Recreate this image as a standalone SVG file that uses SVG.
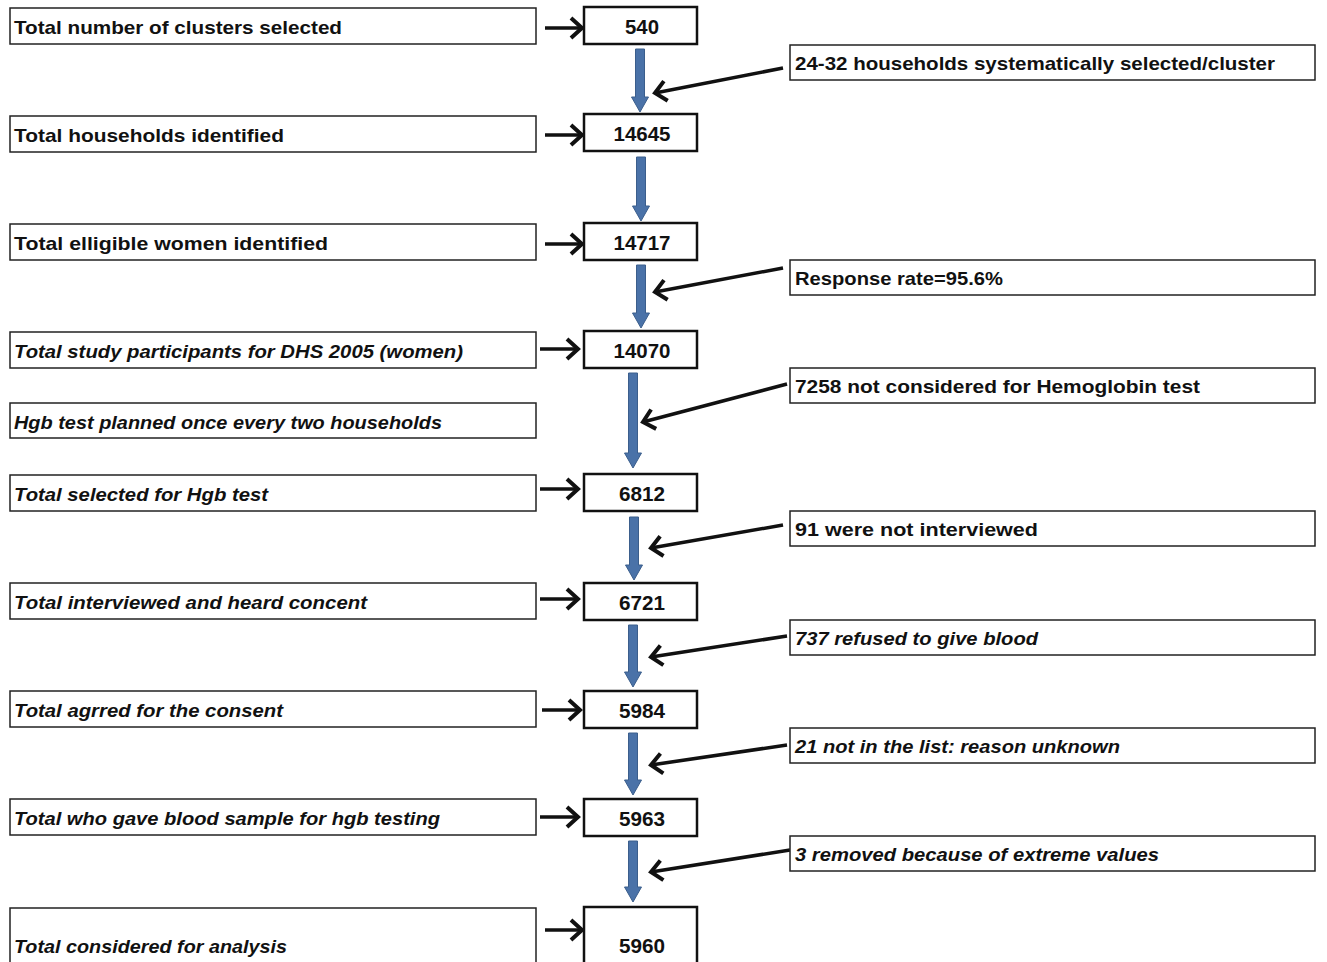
<svg xmlns="http://www.w3.org/2000/svg" width="1327" height="962" viewBox="0 0 1327 962">
<defs>
<style>
.lb{fill:#fff;stroke:#222;stroke-width:1.5}
.nb{fill:#fff;stroke:#111;stroke-width:2.5}
.t{font-family:"Liberation Sans",Arial,sans-serif;font-weight:bold;font-size:19px;fill:#111}
.i{font-style:italic}
.n{text-anchor:middle;font-size:20px}
.blue{fill:#4A72A8;stroke:#3B5E8C;stroke-width:1}
.conn{stroke:#111;stroke-width:3.5;fill:none;marker-end:url(#ah)}
</style>
<marker id="ah" markerUnits="userSpaceOnUse" viewBox="0 0 18 24" markerWidth="18" markerHeight="24" refX="14" refY="12" orient="auto">
<path d="M3,2 L14,12 L3,22" fill="none" stroke="#111" stroke-width="4"/>
</marker>
</defs>
<rect width="1327" height="962" fill="#fff"/>

<g id="connectors">
<path class="blue" d="M635.5,49 H644.5 V97 H648.5 L640,112 L631.5,97 H635.5 Z"/>
<path class="blue" d="M636.5,157 H645.5 V206 H649.5 L641,221 L632.5,206 H636.5 Z"/>
<path class="blue" d="M636.5,265 H645.5 V313 H649.5 L641,328 L632.5,313 H636.5 Z"/>
<path class="blue" d="M628.5,373 H637.5 V453 H641.5 L633,468 L624.5,453 H628.5 Z"/>
<path class="blue" d="M629.5,517 H638.5 V565 H642.5 L634,580 L625.5,565 H629.5 Z"/>
<path class="blue" d="M628.5,625 H637.5 V672 H641.5 L633,687 L624.5,672 H628.5 Z"/>
<path class="blue" d="M628.5,733 H637.5 V780 H641.5 L633,795 L624.5,780 H628.5 Z"/>
<path class="blue" d="M628.5,841 H637.5 V887 H641.5 L633,902 L624.5,887 H628.5 Z"/>
<line class="conn" x1="545" y1="28" x2="582" y2="28"/>
<line class="conn" x1="545" y1="135" x2="582" y2="135"/>
<line class="conn" x1="545" y1="244" x2="582" y2="244"/>
<line class="conn" x1="540" y1="349" x2="578" y2="349"/>
<line class="conn" x1="540" y1="489" x2="578" y2="489"/>
<line class="conn" x1="540" y1="599" x2="578" y2="599"/>
<line class="conn" x1="542" y1="710" x2="580" y2="710"/>
<line class="conn" x1="540" y1="817" x2="578" y2="817"/>
<line class="conn" x1="545" y1="930" x2="582" y2="930"/>
<line class="conn" x1="783" y1="68" x2="655" y2="93"/>
<line class="conn" x1="783" y1="268" x2="655" y2="292"/>
<line class="conn" x1="787" y1="384" x2="643" y2="422"/>
<line class="conn" x1="783" y1="525" x2="651" y2="548"/>
<line class="conn" x1="787" y1="636" x2="651" y2="657"/>
<line class="conn" x1="787" y1="745" x2="651" y2="765"/>
<line class="conn" x1="790" y1="850" x2="651" y2="872"/>
</g>

<g id="l1"><rect class="lb" x="10" y="8" width="526" height="36"/><text class="t" x="14" y="34" textLength="328" lengthAdjust="spacingAndGlyphs">Total number of clusters selected</text></g>
<g id="l2"><rect class="lb" x="10" y="116" width="526" height="36"/><text class="t" x="14" y="142" textLength="270" lengthAdjust="spacingAndGlyphs">Total households identified</text></g>
<g id="l3"><rect class="lb" x="10" y="224" width="526" height="36"/><text class="t" x="14" y="250" textLength="314" lengthAdjust="spacingAndGlyphs">Total elligible women identified</text></g>
<g id="l4"><rect class="lb" x="10" y="332" width="526" height="36"/><text class="t i" x="14" y="358" textLength="449" lengthAdjust="spacingAndGlyphs">Total study participants for DHS 2005 (women)</text></g>
<g id="l5"><rect class="lb" x="10" y="403" width="526" height="35"/><text class="t i" x="14" y="429" textLength="428" lengthAdjust="spacingAndGlyphs">Hgb test planned once every two households</text></g>
<g id="l6"><rect class="lb" x="10" y="475" width="526" height="36"/><text class="t i" x="14" y="501" textLength="254" lengthAdjust="spacingAndGlyphs">Total selected for Hgb test</text></g>
<g id="l7"><rect class="lb" x="10" y="583" width="526" height="36"/><text class="t i" x="14" y="609" textLength="353" lengthAdjust="spacingAndGlyphs">Total interviewed and heard concent</text></g>
<g id="l8"><rect class="lb" x="10" y="691" width="526" height="36"/><text class="t i" x="14" y="717" textLength="269" lengthAdjust="spacingAndGlyphs">Total agrred for the consent</text></g>
<g id="l9"><rect class="lb" x="10" y="799" width="526" height="36"/><text class="t i" x="14" y="825" textLength="426" lengthAdjust="spacingAndGlyphs">Total who gave blood sample for hgb testing</text></g>
<g id="l10"><rect class="lb" x="10" y="908" width="526" height="70"/><text class="t i" x="14" y="953" textLength="273" lengthAdjust="spacingAndGlyphs">Total considered for analysis</text></g>

<g id="n1"><rect class="nb" x="584" y="7" width="113" height="37"/><text class="t n" x="642" y="34" textLength="34" lengthAdjust="spacingAndGlyphs">540</text></g>
<g id="n2"><rect class="nb" x="584" y="114" width="113" height="37"/><text class="t n" x="642" y="141" textLength="57" lengthAdjust="spacingAndGlyphs">14645</text></g>
<g id="n3"><rect class="nb" x="584" y="223" width="113" height="37"/><text class="t n" x="642" y="250" textLength="57" lengthAdjust="spacingAndGlyphs">14717</text></g>
<g id="n4"><rect class="nb" x="584" y="331" width="113" height="37"/><text class="t n" x="642" y="358" textLength="57" lengthAdjust="spacingAndGlyphs">14070</text></g>
<g id="n5"><rect class="nb" x="584" y="474" width="113" height="37"/><text class="t n" x="642" y="501" textLength="46" lengthAdjust="spacingAndGlyphs">6812</text></g>
<g id="n6"><rect class="nb" x="584" y="583" width="113" height="37"/><text class="t n" x="642" y="610" textLength="46" lengthAdjust="spacingAndGlyphs">6721</text></g>
<g id="n7"><rect class="nb" x="584" y="691" width="113" height="37"/><text class="t n" x="642" y="718" textLength="46" lengthAdjust="spacingAndGlyphs">5984</text></g>
<g id="n8"><rect class="nb" x="584" y="799" width="113" height="37"/><text class="t n" x="642" y="826" textLength="46" lengthAdjust="spacingAndGlyphs">5963</text></g>
<g id="n9"><rect class="nb" x="584" y="907" width="113" height="70"/><text class="t n" x="642" y="953" textLength="46" lengthAdjust="spacingAndGlyphs">5960</text></g>

<g id="r1"><rect class="lb" x="790" y="45" width="525" height="35"/><text class="t" x="795" y="70" textLength="480" lengthAdjust="spacingAndGlyphs">24-32 households systematically selected/cluster</text></g>
<g id="r2"><rect class="lb" x="790" y="260" width="525" height="35"/><text class="t" x="795" y="285" textLength="208" lengthAdjust="spacingAndGlyphs">Response rate=95.6%</text></g>
<g id="r3"><rect class="lb" x="790" y="368" width="525" height="35"/><text class="t" x="795" y="393" textLength="405" lengthAdjust="spacingAndGlyphs">7258 not considered for Hemoglobin test</text></g>
<g id="r4"><rect class="lb" x="790" y="511" width="525" height="35"/><text class="t" x="795" y="536" textLength="243" lengthAdjust="spacingAndGlyphs">91 were not interviewed</text></g>
<g id="r5"><rect class="lb" x="790" y="620" width="525" height="35"/><text class="t i" x="795" y="645" textLength="243" lengthAdjust="spacingAndGlyphs">737 refused to give blood</text></g>
<g id="r6"><rect class="lb" x="790" y="728" width="525" height="35"/><text class="t i" x="795" y="753" textLength="325" lengthAdjust="spacingAndGlyphs">21 not in the list: reason unknown</text></g>
<g id="r7"><rect class="lb" x="790" y="836" width="525" height="35"/><text class="t i" x="795" y="861" textLength="364" lengthAdjust="spacingAndGlyphs">3 removed because of extreme values</text></g>
</svg>
